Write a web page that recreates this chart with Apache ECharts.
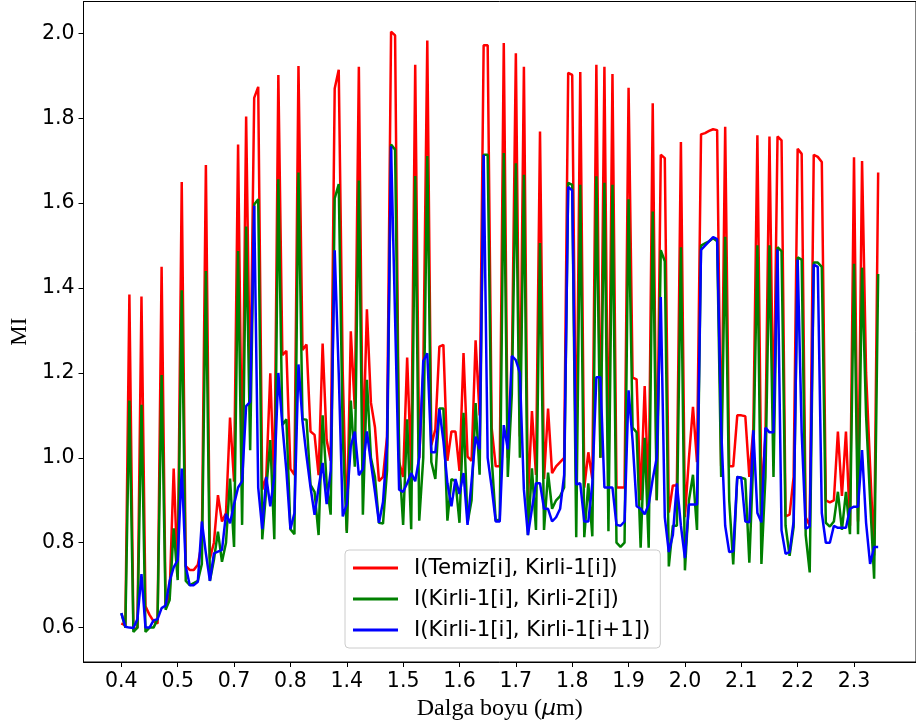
<!DOCTYPE html>
<html>
<head>
<meta charset="utf-8">
<script src="https://cdn.jsdelivr.net/npm/echarts@6/dist/echarts.min.js"></script>
<style>
  html, body { margin: 0; padding: 0; background: #ffffff; }
  #chart { width: 916px; height: 726px; }
</style>
</head>
<body>
<div id="chart"></div>
<script>
// Band positions (index) where wavelength labels are shown, and their labels (µm)
const tickIndex = [0, 14, 28, 42, 56, 70, 84, 98, 112, 126, 140, 154, 168, 182];
const tickLabels = ['0.4', '0.5', '0.7', '0.8', '1.4', '1.5', '1.6', '1.7', '1.8', '1.9', '2.0', '2.1', '2.2', '2.3'];
const yTicks = [0.6, 0.8, 1.0, 1.2, 1.4, 1.6, 1.8, 2.0];

const seriesNames = ['I(Temiz[i], Kirli-1[i])', 'I(Kirli-1[i], Kirli-2[i])', 'I(Kirli-1[i], Kirli-1[i+1])'];

// Mutual information per band: clean vs noisy-1
const miTemizKirli1 = [
  0.61, 0.605, 1.385, 0.595, 0.60, 1.38, 0.65, 0.63, 0.615, 0.61,
  1.45, 0.65, 0.68, 0.975, 0.72, 1.65, 0.745, 0.736, 0.736, 0.748,
  0.80, 1.69, 0.763, 0.80, 0.912, 0.85, 0.87, 1.095, 0.944, 1.738,
  0.95, 1.804, 1.13, 1.848, 1.874, 0.925, 0.955, 1.199, 0.925, 1.902,
  1.242, 1.252, 0.974, 0.96, 1.923, 1.254, 1.267, 1.062, 1.054, 0.959,
  1.269, 1.042, 0.993, 1.87, 1.914, 1.2, 0.828, 1.298, 1.115, 1.921,
  1.0, 1.35, 1.13, 1.072, 0.945, 0.955, 1.05, 2.004, 1.995, 0.99,
  0.955, 1.236, 0.97, 1.926, 1.0, 1.2, 1.983, 1.03, 1.067, 1.262,
  1.266, 0.993, 1.062, 1.062, 0.969, 1.247, 1.003, 0.993, 1.277, 1.10,
  1.972, 1.972, 1.07, 0.98, 0.98, 1.977, 1.0, 1.2, 1.953, 1.05,
  1.921, 0.9, 1.11, 0.96, 1.769, 0.95, 1.116, 0.964, 0.98, 0.99,
  1.0, 1.907, 1.902, 0.94, 1.909, 0.93, 1.013, 0.95, 1.926, 1.0,
  1.921, 0.93, 1.904, 0.93, 0.93, 0.93, 1.872, 1.189, 1.185, 0.9,
  1.169, 0.9, 1.835, 0.9, 1.714, 1.706, 0.871, 0.935, 0.935, 1.744,
  0.86, 1.0, 1.12, 0.99, 1.762, 1.765, 1.77, 1.774, 1.772, 0.98,
  1.78, 0.98, 0.98, 1.10, 1.10, 1.098, 0.955, 1.07, 1.76, 0.9,
  1.05, 1.757, 1.06, 1.757, 1.748, 0.862, 0.866, 0.955, 1.728, 1.716,
  0.86, 0.84, 1.714, 1.709, 1.697, 0.9, 0.895, 0.9, 1.062, 0.91,
  1.062, 0.84, 1.708, 0.85, 1.699, 1.2, 0.98, 0.77, 1.672
];

// Mutual information per band: noisy-1 vs noisy-2
const miKirli1Kirli2 = [
  0.634, 0.60, 1.135, 0.59, 0.60, 1.125, 0.59, 0.60, 0.60, 0.62,
  1.195, 0.642, 0.665, 0.834, 0.712, 1.395, 0.71, 0.70, 0.705, 0.71,
  0.75, 1.44, 0.71, 0.76, 0.826, 0.755, 0.80, 0.951, 0.79, 1.487,
  0.842, 1.545, 1.018, 1.597, 1.609, 0.808, 0.925, 1.042, 0.808, 1.656,
  1.077, 1.091, 0.832, 0.82, 1.672, 1.091, 1.09, 0.936, 0.92, 0.818,
  1.10, 0.94, 0.866, 1.611, 1.645, 1.05, 0.823, 1.135, 0.979, 1.653,
  0.866, 1.184, 1.0, 0.955, 0.847, 0.845, 0.97, 1.738, 1.726, 1.0,
  0.842, 1.091, 0.832, 1.664, 0.852, 1.0, 1.711, 0.99, 0.95, 1.116,
  1.116, 0.852, 0.95, 0.945, 0.847, 1.106, 0.847, 0.9, 1.129, 0.96,
  1.714, 1.714, 1.0, 0.852, 0.855, 1.718, 0.955, 1.15, 1.694, 1.0,
  1.667, 0.818, 0.975, 0.83, 1.506, 0.83, 0.965, 0.88, 0.9, 0.91,
  0.93, 1.648, 1.643, 0.813, 1.643, 0.813, 0.94, 0.815, 1.663, 1.0,
  1.648, 0.827, 1.643, 0.80, 0.79, 0.80, 1.609, 1.071, 1.06, 0.788,
  1.047, 0.788, 1.58, 0.9, 1.489, 1.463, 0.744, 0.84, 0.84, 1.496,
  0.735, 0.9, 0.96, 0.83, 1.50, 1.505, 1.51, 1.517, 1.51, 0.955,
  1.521, 0.9, 0.749, 0.955, 0.953, 0.95, 0.753, 1.0, 1.501, 0.75,
  0.955, 1.501, 0.955, 1.496, 1.487, 0.84, 0.769, 0.837, 1.472, 1.467,
  0.818, 0.73, 1.46, 1.46, 1.45, 0.847, 0.838, 0.85, 0.92, 0.83,
  0.92, 0.82, 1.457, 0.82, 1.448, 1.1, 0.9, 0.715, 1.433
];

// Mutual information per band: noisy-1 band i vs noisy-1 band i+1
const miKirli1Komsu = [
  0.634, 0.602, 0.60, 0.599, 0.62, 0.726, 0.60, 0.60, 0.617, 0.62,
  0.646, 0.652, 0.71, 0.742, 0.759, 0.975, 0.744, 0.70, 0.70, 0.708,
  0.85, 0.775, 0.71, 0.775, 0.779, 0.783, 0.868, 0.846, 0.891, 0.93,
  0.945, 1.122, 1.132, 1.594, 0.93, 0.832, 0.955, 0.886, 0.955, 1.20,
  1.077, 0.969, 0.832, 0.87, 1.22, 1.087, 1.004, 0.93, 0.866, 0.93,
  0.988, 0.891, 0.97, 1.489, 1.2, 0.862, 0.891, 1.028, 1.062, 0.959,
  0.974, 1.062, 0.988, 0.92, 0.847, 0.896, 1.03, 1.734, 1.33, 0.925,
  0.92, 0.94, 0.964, 0.945, 1.0, 1.228, 1.246, 1.013, 1.013, 1.115,
  1.04, 0.94, 0.886, 0.95, 0.915, 0.964, 0.842, 0.945, 1.05, 1.02,
  1.714, 1.0, 0.93, 0.85, 0.85, 1.077, 1.02, 1.24, 1.23, 1.2,
  0.925, 0.818, 0.88, 0.94, 0.94, 0.88, 0.88, 0.85, 0.86, 0.88,
  0.96, 1.638, 1.63, 0.937, 0.94, 0.85, 0.85, 0.94, 1.19, 1.19,
  0.93, 0.93, 0.93, 0.842, 0.84, 0.85, 1.159, 1.04, 0.886, 0.88,
  0.867, 0.89, 0.95, 1.0, 1.379, 0.86, 0.778, 0.818, 0.94, 0.84,
  0.764, 0.89, 0.89, 0.89, 1.49, 1.50, 1.51, 1.52, 1.515, 1.07,
  0.84, 0.778, 0.78, 0.955, 0.953, 0.85, 0.848, 1.065, 0.87, 0.848,
  1.071, 1.06, 1.06, 1.491, 0.829, 0.774, 0.778, 0.85, 1.467, 1.06,
  0.833, 0.838, 1.455, 1.45, 0.87, 0.80, 0.80, 0.84, 0.835, 0.835,
  0.835, 0.88, 0.885, 0.885, 1.018, 0.847, 0.75, 0.79, 0.79
];

const lineColors = ['#ff0000', '#008000', '#0000ff'];
const allSeries = [miTemizKirli1, miKirli1Kirli2, miKirli1Komsu];

const n = miTemizKirli1.length;
const xPad = 0.05 * (n - 1);
const labelMap = {};
tickIndex.forEach((t, k) => { labelMap[t] = tickLabels[k]; });

const chart = echarts.init(document.getElementById('chart'), null, { renderer: 'canvas' });

chart.setOption({
  animation: false,
  backgroundColor: '#ffffff',
  grid: {
    left: 81, top: 1.5, width: 841.7, height: 660.5,
    show: true, borderColor: '#000000', borderWidth: 1, backgroundColor: 'transparent'
  },
  xAxis: {
    type: 'value',
    min: -xPad, max: (n - 1) + xPad,
    name: 'Dalga boyu ({mu|μ}m)',
    nameLocation: 'middle',
    nameGap: 29,
    nameTextStyle: {
      fontFamily: 'Liberation Serif', fontSize: 24, color: '#000000',
      rich: { mu: { fontFamily: 'DejaVu Sans', fontStyle: 'italic', fontSize: 22, color: '#000000' } }
    },
    splitLine: { show: false },
    axisLine: { show: true, onZero: false, lineStyle: { color: '#000000', width: 1 } },
    axisTick: { show: true, length: 5, lineStyle: { color: '#000000' }, customValues: tickIndex },
    axisLabel: {
      customValues: tickIndex,
      formatter: v => labelMap[Math.round(v)] || '',
      fontFamily: 'DejaVu Sans', fontSize: 20.5, color: '#000000', margin: 9
    }
  },
  yAxis: {
    type: 'value',
    min: 0.519, max: 2.075,
    name: 'MI',
    nameLocation: 'middle',
    nameRotate: 90,
    nameGap: 49,
    nameTextStyle: { fontFamily: 'Liberation Serif', fontSize: 23, color: '#000000' },
    splitLine: { show: false },
    axisLine: { show: true, onZero: false, lineStyle: { color: '#000000', width: 1 } },
    axisTick: { show: true, length: 5, lineStyle: { color: '#000000' }, customValues: yTicks },
    axisLabel: {
      customValues: yTicks,
      formatter: v => v.toFixed(1),
      fontFamily: 'DejaVu Sans', fontSize: 20.5, color: '#000000', margin: 9
    }
  },
  legend: {
    orient: 'vertical',
    left: 345, top: 550,
    itemWidth: 45, itemHeight: 3, itemGap: 7,
    icon: 'rect',
    padding: [6, 10, 6, 8],
    backgroundColor: 'rgba(255,255,255,0.8)',
    borderColor: '#cccccc', borderWidth: 1, borderRadius: 4,
    textStyle: { fontFamily: 'DejaVu Sans', fontSize: 21.3, color: '#000000', lineHeight: 24, padding: [0, 0, 0, 11] },
    data: seriesNames
  },
  series: allSeries.map((vals, k) => ({
    name: seriesNames[k],
    type: 'line',
    data: vals.map((v, i) => [i, v]),
    showSymbol: false,
    symbol: 'none',
    color: lineColors[k],
    lineStyle: { color: lineColors[k], width: 2.5 },
    emphasis: { disabled: true },
    z: 2 + k
  }))
});
</script>
</body>
</html>
